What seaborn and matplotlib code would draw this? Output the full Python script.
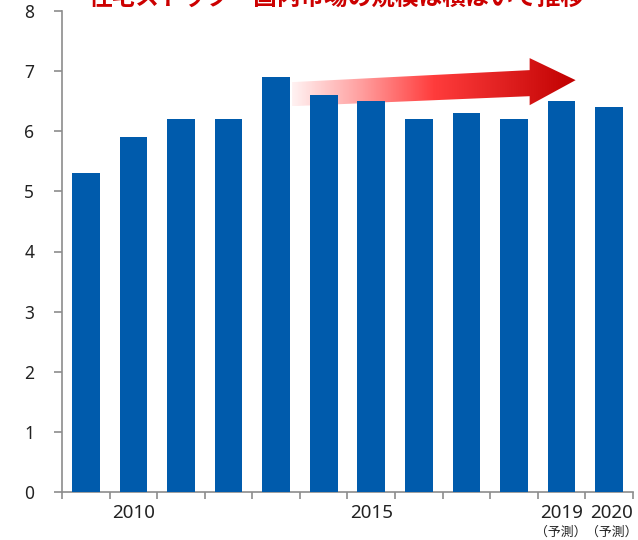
import numpy as np
import pandas as pd
import matplotlib
matplotlib.use("Agg")
import matplotlib.pyplot as plt
import seaborn as sns
from matplotlib.patches import Polygon
from matplotlib.colors import LinearSegmentedColormap
from matplotlib.transforms import offset_copy

# data
years = ["2009", "2010", "2011", "2012", "2013", "2014",
         "2015", "2016", "2017", "2018", "2019", "2020"]
values = [5.3, 5.9, 6.2, 6.2, 6.9, 6.6, 6.5, 6.2, 6.3, 6.2, 6.5, 6.4]
shown_labels = {"2010": "2010", "2015": "2015", "2019": "2019", "2020": "2020"}
forecast_years = ["2019", "2020"]
title_text = "住宅ストック・国内市場の規模は横ばいで推移"

df = pd.DataFrame({"year": years, "value": values})

sns.set_theme(style="white")
plt.rcParams["font.family"] = ["Noto Sans", "Noto Sans CJK JP", "DejaVu Sans"]

fig = plt.figure(figsize=(6.38, 5.4), dpi=100)
ax = fig.add_axes([62 / 638, 48 / 540, 571 / 638, 481 / 540])

sns.barplot(data=df, x="year", y="value", order=years, color="#005BAC",
            saturation=1, width=0.58, linewidth=0, ax=ax, zorder=4)

ax.set_ylim(0, 8)
ax.set_xlim(-0.5, len(years) - 0.5)
ax.set_yticks(range(0, 9))
ax.set_xlabel("")
ax.set_ylabel("")

# spines
for s in ["top", "right"]:
    ax.spines[s].set_visible(False)
for s in ["left", "bottom"]:
    ax.spines[s].set_color("#8c8c8c")
    ax.spines[s].set_linewidth(1.2)

# y ticks outward
ax.tick_params(axis="y", which="major", left=True, length=6, width=1.2,
               color="#8c8c8c", pad=14, labelsize=12.5, labelcolor="#222222")

# x: labels at bar centres without marks, minor marks between bars
ax.set_xticks(range(len(years)))
ax.set_xticklabels([shown_labels.get(y, "") for y in years])
ax.set_xticks(np.arange(-0.5, len(years), 1.0), minor=True)
ax.tick_params(axis="x", which="major", bottom=False, length=0, pad=9,
               labelsize=13.5, labelcolor="#222222")
ax.tick_params(axis="x", which="minor", bottom=True, length=5, width=1.2,
               color="#8c8c8c")
# the last label sits a little to the right in the reference
last = ax.get_xticklabels()[-1]
last.set_transform(offset_copy(last.get_transform(), fig=fig, x=2, units="dots"))

xtrans = ax.get_xaxis_transform()
for fy in forecast_years:
    shift = 3 if fy == years[-1] else -1
    ax.text(years.index(fy), -0.084, "（予測）",
            transform=offset_copy(xtrans, fig=fig, x=shift, units="dots"),
            ha="center", va="center", fontsize=9.3, color="#222222",
            family=["Noto Sans CJK JP", "DejaVu Sans"])

# gradient arrow showing the flat trend (behind the bars)
px_x = lambda p: (p - 86) / 47.6
px_y = lambda p: (492 - p) / 60.0
arrow_px = [(292, 83), (530, 71), (530, 59), (576, 81),
            (530, 106), (530, 97), (292, 107)]
arrow_pts = [(px_x(a), px_y(b)) for a, b in arrow_px]
poly = Polygon(arrow_pts, closed=True, facecolor="none", edgecolor="none")
ax.add_patch(poly)
cmap = LinearSegmentedColormap.from_list(
    "redgrad", ["#fff2f2", "#ff9c9c", "#ff3c3c", "#e02020", "#c00000"])
grad = np.linspace(0, 1, 256).reshape(1, -1)
xs = [p[0] for p in arrow_pts]
ys = [p[1] for p in arrow_pts]
im = ax.imshow(grad, cmap=cmap, aspect="auto",
               extent=[min(xs), max(xs), min(ys), max(ys)], zorder=2)
im.set_clip_path(poly)
ax.set_xlim(-0.5, len(years) - 0.5)
ax.set_ylim(0, 8)

# title cut off at the top of the picture
fig.text(337 / 638, 1 - 5 / 540, title_text, ha="center", va="baseline",
         fontsize=17, fontweight="bold", color="#cc0000",
         family=["Noto Sans CJK JP", "DejaVu Sans"])

fig.savefig("out.png", dpi=100)
